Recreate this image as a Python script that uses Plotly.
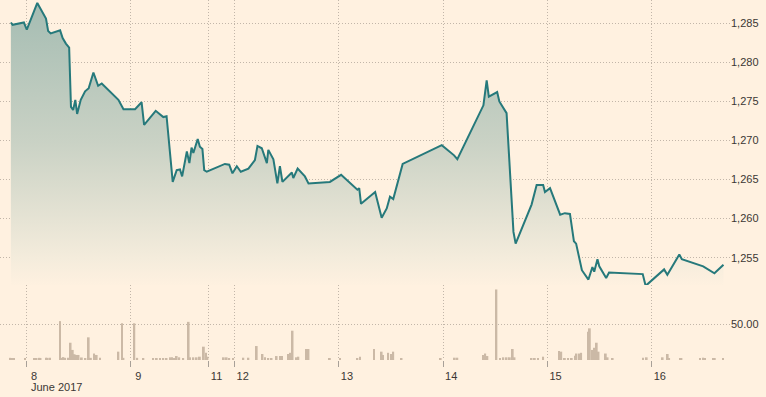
import plotly.graph_objects as go

# ---- price series (spot gold, USD) ----
price_time = [
    "2017-06-07 20:30", "2017-06-07 20:55", "2017-06-07 23:30", "2017-06-08 00:10",
    "2017-06-08 02:35", "2017-06-08 04:35", "2017-06-08 05:05", "2017-06-08 05:40",
    "2017-06-08 07:50", "2017-06-08 08:25", "2017-06-08 09:10", "2017-06-08 09:55",
    "2017-06-08 10:20", "2017-06-08 10:50", "2017-06-08 11:20", "2017-06-08 11:45",
    "2017-06-08 12:35", "2017-06-08 13:35", "2017-06-08 14:25", "2017-06-08 15:30",
    "2017-06-08 16:35", "2017-06-08 17:25", "2017-06-08 21:15", "2017-06-08 22:25",
    "2017-06-09 01:05", "2017-06-09 02:35", "2017-06-09 03:10", "2017-06-09 05:50",
    "2017-06-09 07:35", "2017-06-09 08:20", "2017-06-09 09:45", "2017-06-09 10:40",
    "2017-06-09 11:25", "2017-06-09 11:55", "2017-06-09 13:00", "2017-06-09 13:35",
    "2017-06-09 14:05", "2017-06-09 14:30", "2017-06-09 15:30", "2017-06-09 16:00",
    "2017-06-09 16:35", "2017-06-09 17:00", "2017-06-09 17:35",
    "2017-06-11 21:45", "2017-06-11 22:45", "2017-06-11 23:30", "2017-06-12 00:30",
    "2017-06-12 01:25", "2017-06-12 03:10", "2017-06-12 04:40", "2017-06-12 05:15",
    "2017-06-12 06:15", "2017-06-12 07:25", "2017-06-12 07:45", "2017-06-12 08:55",
    "2017-06-12 09:50", "2017-06-12 10:25", "2017-06-12 11:00", "2017-06-12 13:10",
    "2017-06-12 13:30", "2017-06-12 14:30", "2017-06-12 16:10", "2017-06-12 17:00",
    "2017-06-12 21:55", "2017-06-13 00:30", "2017-06-13 04:15", "2017-06-13 04:40",
    "2017-06-13 05:05", "2017-06-13 08:20", "2017-06-13 09:50", "2017-06-13 11:00",
    "2017-06-13 11:45", "2017-06-13 12:30", "2017-06-13 14:40", "2017-06-13 23:40",
    "2017-06-14 02:30", "2017-06-14 03:15", "2017-06-14 09:15", "2017-06-14 10:00",
    "2017-06-14 10:30", "2017-06-14 12:25", "2017-06-14 12:55", "2017-06-14 14:35",
    "2017-06-14 16:10", "2017-06-14 16:40", "2017-06-14 20:20", "2017-06-14 21:30",
    "2017-06-14 23:00", "2017-06-14 23:25", "2017-06-15 00:35", "2017-06-15 02:55",
    "2017-06-15 04:00", "2017-06-15 05:10", "2017-06-15 06:05", "2017-06-15 06:35",
    "2017-06-15 07:55", "2017-06-15 09:25", "2017-06-15 10:20", "2017-06-15 10:45",
    "2017-06-15 11:30", "2017-06-15 11:55", "2017-06-15 13:30", "2017-06-15 14:10",
    "2017-06-15 21:55", "2017-06-15 22:35", "2017-06-16 02:50", "2017-06-16 03:35",
    "2017-06-16 06:20", "2017-06-16 06:55", "2017-06-16 11:50", "2017-06-16 14:25",
    "2017-06-16 16:30",
]
price_value = [
    1285.1, 1284.8, 1285.1, 1284.2,
    1287.6, 1285.6, 1284.0, 1283.7,
    1284.1, 1283.1, 1282.4, 1281.9,
    1274.3, 1273.9, 1275.2, 1273.4,
    1275.2, 1276.3, 1276.7, 1278.7,
    1277.0, 1277.3, 1275.2, 1274.0,
    1274.0, 1274.9, 1272.0, 1273.8,
    1273.0, 1273.1, 1264.7, 1266.2,
    1266.3, 1265.4, 1268.6, 1267.1,
    1269.1, 1268.4, 1270.2, 1269.2,
    1268.9, 1266.2, 1266.0,
    1267.0, 1266.9, 1265.8, 1266.7,
    1266.0, 1266.4, 1267.5, 1269.3,
    1269.0, 1267.1, 1268.8, 1267.6,
    1264.5, 1266.7, 1264.7, 1265.9,
    1265.2, 1266.4, 1265.4, 1264.5,
    1264.7, 1265.6, 1263.7, 1263.9,
    1261.9, 1263.4, 1260.1, 1261.3,
    1262.8, 1262.5, 1267.0, 1269.4,
    1268.1, 1267.6, 1274.5, 1277.7,
    1275.6, 1276.2, 1275.0, 1273.5,
    1258.3, 1256.8, 1261.8, 1264.3,
    1264.3, 1263.4, 1263.9, 1260.5,
    1260.7, 1260.6, 1257.1, 1256.8,
    1253.4, 1252.2, 1253.8, 1253.2,
    1254.8, 1253.9, 1252.4, 1253.1,
    1252.9, 1251.4, 1253.5, 1252.8,
    1255.4, 1254.8, 1253.9, 1253.0,
    1254.1,
]

# ---- volume series ----
volume_time = [
    "2017-06-07 20:20", "2017-06-07 20:45", "2017-06-07 21:15", "2017-06-07 23:45",
    "2017-06-08 01:55", "2017-06-08 02:25", "2017-06-08 03:05", "2017-06-08 03:20",
    "2017-06-08 04:35", "2017-06-08 05:00", "2017-06-08 05:30", "2017-06-08 07:50",
    "2017-06-08 08:05", "2017-06-08 08:35", "2017-06-08 09:00", "2017-06-08 09:40",
    "2017-06-08 10:15", "2017-06-08 10:45", "2017-06-08 11:10", "2017-06-08 11:40",
    "2017-06-08 12:05", "2017-06-08 12:50", "2017-06-08 13:40", "2017-06-08 14:25",
    "2017-06-08 14:55", "2017-06-08 15:40", "2017-06-08 16:15", "2017-06-08 17:00",
    "2017-06-08 21:15", "2017-06-08 22:05", "2017-06-08 22:25",
    "2017-06-09 00:55", "2017-06-09 01:35", "2017-06-09 03:00", "2017-06-09 05:15",
    "2017-06-09 06:05", "2017-06-09 06:50", "2017-06-09 07:35", "2017-06-09 08:20",
    "2017-06-09 09:10", "2017-06-09 09:35", "2017-06-09 10:05", "2017-06-09 10:40",
    "2017-06-09 11:15", "2017-06-09 12:10", "2017-06-09 13:25", "2017-06-09 13:45",
    "2017-06-09 14:30", "2017-06-09 15:15", "2017-06-09 16:00", "2017-06-09 16:55",
    "2017-06-09 17:25", "2017-06-09 17:45",
    "2017-06-11 21:30", "2017-06-11 22:10", "2017-06-11 22:45", "2017-06-11 23:40",
    "2017-06-12 02:00", "2017-06-12 03:10", "2017-06-12 05:05", "2017-06-12 06:25",
    "2017-06-12 07:00", "2017-06-12 07:45", "2017-06-12 08:30", "2017-06-12 09:40",
    "2017-06-12 10:25", "2017-06-12 10:55", "2017-06-12 12:20", "2017-06-12 12:55",
    "2017-06-12 13:20", "2017-06-12 14:15", "2017-06-12 14:40", "2017-06-12 16:35",
    "2017-06-12 17:00", "2017-06-12 21:55",
    "2017-06-13 00:15", "2017-06-13 04:15", "2017-06-13 04:50", "2017-06-13 08:05",
    "2017-06-13 09:50", "2017-06-13 10:10", "2017-06-13 11:20", "2017-06-13 12:10",
    "2017-06-13 12:30", "2017-06-13 14:25", "2017-06-13 23:25",
    "2017-06-14 02:40", "2017-06-14 03:15", "2017-06-14 09:10", "2017-06-14 09:40",
    "2017-06-14 10:10", "2017-06-14 12:15", "2017-06-14 13:05", "2017-06-14 13:50",
    "2017-06-14 14:35", "2017-06-14 15:20", "2017-06-14 16:00", "2017-06-14 16:25",
    "2017-06-14 20:20", "2017-06-14 21:05", "2017-06-14 21:50", "2017-06-14 23:00",
    "2017-06-15 02:40", "2017-06-15 03:10", "2017-06-15 04:00", "2017-06-15 04:45",
    "2017-06-15 05:35", "2017-06-15 06:20", "2017-06-15 06:40", "2017-06-15 07:20",
    "2017-06-15 07:45", "2017-06-15 09:20", "2017-06-15 09:45", "2017-06-15 10:25",
    "2017-06-15 10:50", "2017-06-15 11:20", "2017-06-15 11:45", "2017-06-15 13:25",
    "2017-06-15 13:50", "2017-06-15 15:00", "2017-06-15 22:00", "2017-06-15 22:50",
    "2017-06-16 02:30", "2017-06-16 03:40", "2017-06-16 04:00", "2017-06-16 06:30",
    "2017-06-16 06:50", "2017-06-16 11:05", "2017-06-16 11:50", "2017-06-16 12:15",
    "2017-06-16 14:10", "2017-06-16 14:30", "2017-06-16 16:25",
]
volume_value = [
    3, 2, 2, 1.5,
    2.3, 1.5, 3, 1.5,
    3, 3, 3, 54,
    3, 4, 3, 3,
    24, 14, 8, 7,
    7, 3.5, 2.3, 31.5,
    3, 9, 7, 3,
    11.6, 51, 3,
    51, 3, 1.8, 1.8,
    1.8, 1.8, 1.8, 2.7,
    3.7, 3.7, 1.8, 5.5,
    3.7, 1.8, 53, 3.7,
    3.7, 3.7, 4.6, 18.5,
    10, 4.6,
    3.7, 3.7, 2.8, 1.8,
    3.2, 3.2, 19.4, 8.3,
    3.7, 2.3, 2.3, 5.5,
    5.5, 5.5, 8.3, 10,
    40.7, 3.7, 4.6, 15.3,
    15.3, 2.3,
    1.5, 2.3, 4.6, 15.3,
    11.6, 7, 10, 8.3,
    11.6, 2.3, 2.3,
    3.2, 3.2, 7, 9,
    5.5, 98, 2.3, 3.7,
    3.7, 3.7, 15.3, 3.7,
    2.3, 2.3, 2.3, 4.6,
    12.5, 11.6, 1.4, 2.3,
    2.3, 6, 9, 9,
    10, 39.4, 44, 14,
    17, 24, 11.6, 9,
    3.7, 1.4, 3.2, 3.7,
    3.7, 8.3, 2.3, 1.4,
    1.4, 2.3, 3.2, 2.3,
    1.4, 1.4, 1.4,
]

# ---- axis ticks ----
x_tick_vals = ["2017-06-08", "2017-06-09", "2017-06-11 18:00", "2017-06-12",
               "2017-06-13", "2017-06-14", "2017-06-15", "2017-06-16"]
x_tick_text = ["8", "9", "11", "12", "13", "14", "15", "16"]
price_ticks = [1255, 1260, 1265, 1270, 1275, 1280, 1285]
volume_ticks = [50]

BG = "#fff1e0"
GRID = "#c2b6a9"
TXT = "#3b3734"
FONT = "Liberation Sans, Arial, sans-serif"

fig = go.Figure()

fig.add_trace(go.Scatter(
    x=price_time, y=price_value, mode="lines",
    line=dict(color="#26797b", width=2),
    fill="tozeroy",
    fillgradient=dict(
        type="vertical",
        colorscale=[[0, "#fff1e0"], [0.1, "#f4ecdc"], [0.5, "#cad2c5"], [1, "#a4bcb2"]],
        start=1251.2, stop=1288.0,
    ),
    xaxis="x", yaxis="y", showlegend=False, hoverinfo="skip",
))

fig.add_trace(go.Bar(
    x=volume_time, y=volume_value,
    width=[1.5e6] * len(volume_time),
    marker=dict(color="#cbb9a6", line=dict(width=0)),
    xaxis="x", yaxis="y2", showlegend=False, hoverinfo="skip",
))

fig.update_layout(
    width=766, height=397,
    margin=dict(l=0, r=36, t=0, b=37, pad=0),
    paper_bgcolor=BG, plot_bgcolor=BG,
    font=dict(family=FONT, size=11, color=TXT),
    xaxis=dict(
        type="date",
        range=["2017-06-07 18:00", "2017-06-16 18:00"],
        rangebreaks=[dict(values=["2017-06-09 18:00:00"], dvalue=48 * 3600 * 1000)],
        tickmode="array", tickvals=x_tick_vals, ticktext=x_tick_text,
        ticks="outside", ticklen=6, tickwidth=1, tickcolor="#a8a098",
        ticklabelshift=8,
        showgrid=True, gridcolor=GRID, griddash="1px,2px", gridwidth=1,
        showline=False, zeroline=False, anchor="y2",
        tickfont=dict(family=FONT, size=11, color=TXT),
        automargin=False,
    ),
    yaxis=dict(
        domain=[0.1889, 1.0], range=[1250.61, 1287.98], side="right", anchor="x",
        tickmode="array", tickvals=price_ticks, tickformat=",d",
        ticks="", showgrid=True, gridcolor=GRID, griddash="1px,2px", gridwidth=1,
        zeroline=False, showline=False,
        tickfont=dict(family=FONT, size=11, color=TXT),
        automargin=False,
    ),
    yaxis2=dict(
        domain=[0.0, 0.2083], range=[0, 104.17], side="right", anchor="x",
        tickmode="array", tickvals=volume_ticks, tickformat=".2f",
        ticks="", showgrid=True, gridcolor=GRID, griddash="1px,2px", gridwidth=1,
        zeroline=False, showline=False,
        tickfont=dict(family=FONT, size=11, color=TXT),
        automargin=False,
    ),
    annotations=[dict(
        text="June 2017", xref="paper", yref="paper", x=0.040, y=-0.075,
        xanchor="left", yanchor="middle", showarrow=False,
        font=dict(family=FONT, size=11, color=TXT),
    )],
)

fig.write_html(
    "out.html",
    config={"displayModeBar": False},
    post_script="document.body.style.margin='0';document.body.style.background='#fff1e0';",
)
